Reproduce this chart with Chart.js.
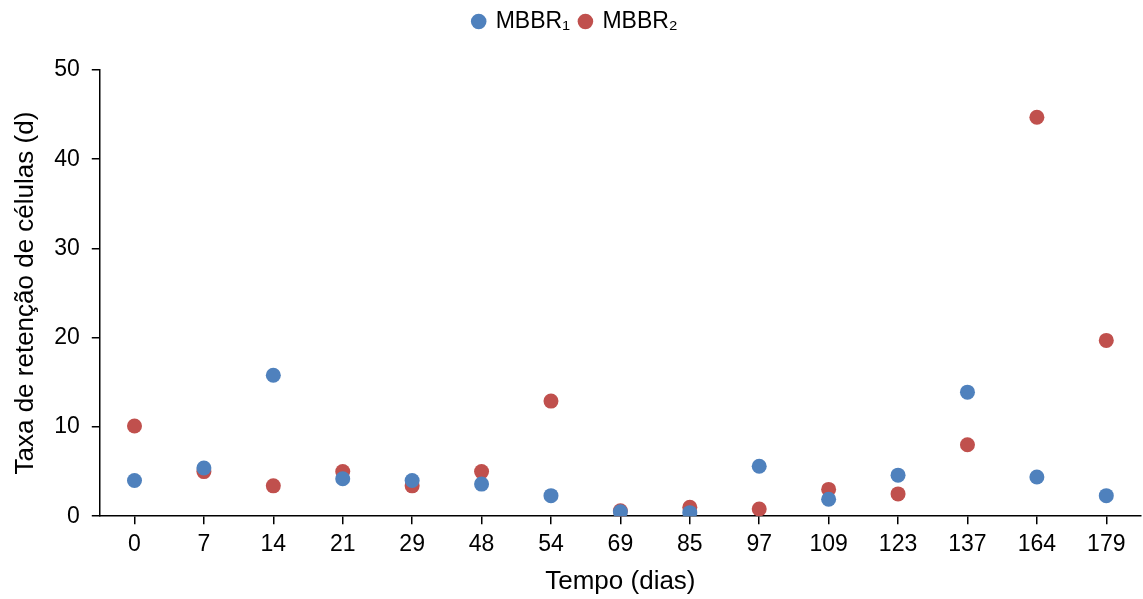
<!DOCTYPE html>
<html>
<head>
<meta charset="utf-8">
<script src="https://cdn.jsdelivr.net/npm/chart.js@4"></script>
<style>
	body { margin: 0; background: #fff; }
	#box { width: 1143px; height: 599px; }
</style>
</head>
<body>
<div id="box"><canvas id="scatterChart"></canvas></div>
<script>
var dias = ["0", "7", "14", "21", "29", "48", "54", "69", "85", "97", "109", "123", "137", "164", "179"];
var mbbr1 = [4.0, 5.4, 15.8, 4.2, 4.0, 3.6, 2.3, 0.5, 0.4, 5.6, 1.9, 4.6, 13.9, 4.4, 2.3];
var mbbr2 = [10.1, 5.0, 3.4, 5.0, 3.4, 5.0, 12.9, 0.6, 1.0, 0.8, 3.0, 2.5, 8.0, 44.7, 19.7];
var yTicks = [0, 10, 20, 30, 40, 50];

var color = {
	blue: "#4F81BD",
	red: "#C0504D"
};

Chart.defaults.font.family = "'Liberation Sans', Arial, sans-serif";
Chart.defaults.color = "#000";

// extra room under the legend
var legendSpace = {
	id: "legendSpace",
	beforeInit: function (chart) {
		var fit = chart.legend.fit;
		chart.legend.fit = function () {
			fit.bind(chart.legend)();
			this.height += 27;
		};
	}
};

var ctx = document.getElementById("scatterChart").getContext("2d");
var chart = new Chart(ctx, {
	type: "line",
	data: {
		labels: dias,
		datasets: [
			{
				label: "MBBR\u2081",
				data: mbbr1,
				showLine: false,
				pointRadius: 7.5,
				pointHoverRadius: 7.5,
				pointBorderWidth: 0,
				backgroundColor: color.blue,
				borderColor: color.blue
			},
			{
				label: "MBBR\u2082",
				data: mbbr2,
				showLine: false,
				pointRadius: 7.5,
				pointHoverRadius: 7.5,
				pointBorderWidth: 0,
				backgroundColor: color.red,
				borderColor: color.red
			}
		]
	},
	options: {
		responsive: true,
		maintainAspectRatio: false,
		animation: false,
		layout: {
			autoPadding: false,
			padding: { top: 0, right: 2, left: 10, bottom: 2 }
		},
		plugins: {
			tooltip: { enabled: false },
			legend: {
				position: "top",
				labels: {
					usePointStyle: true,
					pointStyle: "circle",
					boxWidth: 11,
					boxHeight: 11,
					padding: 10,
					font: { size: 23 },
					color: "#000"
				}
			}
		},
		scales: {
			x: {
				offset: true,
				grid: {
					offset: false,
					drawOnChartArea: false,
					drawTicks: true,
					tickLength: 8,
					color: "#000",
					lineWidth: 1.5
				},
				border: { display: true, color: "#000", width: 1.5 },
				ticks: { font: { size: 23 }, color: "#000", padding: 7, maxRotation: 0 },
				title: {
					display: true,
					text: "Tempo (dias)",
					font: { size: 26 },
					color: "#000",
					padding: { top: 0, bottom: 0 }
				}
			},
			y: {
				min: 0,
				max: 50,
				afterBuildTicks: function (axis) {
					axis.ticks = yTicks.map(function (v) { return { value: v }; });
				},
				grid: {
					drawOnChartArea: false,
					drawTicks: true,
					tickLength: 8,
					color: "#000",
					lineWidth: 1.5
				},
				border: { display: true, color: "#000", width: 1.5 },
				ticks: { font: { size: 23 }, color: "#000", padding: 12 },
				title: {
					display: true,
					text: "Taxa de retenção de células (d)",
					font: { size: 26 },
					color: "#000",
					padding: { top: 0, bottom: 1 }
				}
			}
		}
	},
	plugins: [legendSpace]
});
</script>
</body>
</html>
